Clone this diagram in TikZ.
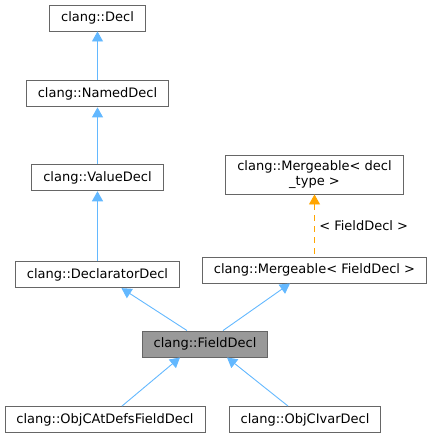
\documentclass[tikz,border=0pt]{standalone}
\usepackage{fontspec}
\setmainfont{DejaVu Sans}
\usepackage{xcolor}
\usetikzlibrary{arrows.meta, positioning}

\definecolor{edgeblue}{HTML}{63B8FF}
\definecolor{tmplorange}{HTML}{FFA500}
\definecolor{boxgray}{HTML}{666666}
\definecolor{curfill}{HTML}{999999}

\begin{document}
\begin{tikzpicture}[
    x=1pt, y=-1pt,
    cls/.style={rectangle, draw=boxgray, fill=white, line width=0.9pt, inner xsep=11.5pt, inner ysep=2pt, minimum height=26pt, font=\fontsize{13}{15}\selectfont, align=center},
    current/.style={cls, fill=curfill},
    arrow/.style={{Triangle[width=11pt,length=10pt]}-, draw=edgeblue, line width=0.9pt},
    tmplarrow/.style={{Triangle[width=11pt,length=10pt]}-, draw=tmplorange, line width=0.9pt, dash pattern=on 6pt off 5pt}
]
\useasboundingbox (0,0) rectangle (432,437);

% base chain
\node[cls] (decl) at (97.5,18) {clang::Decl};
\node[cls, below=49pt of decl] (named) {clang::NamedDecl};
\node[cls, below=57pt of named] (value) {clang::ValueDecl};
\node[cls, below=70pt of value] (declarator) {clang::DeclaratorDecl};

% template side
\node[cls, minimum height=39pt] (mergetmpl) at (314.5,174.5) {clang::Mergeable< decl\\\_type >};
\node[cls] (mergefield) at (314.5,270) {clang::Mergeable< FieldDecl >};

% this class and subclasses
\node[current] (field) at (205,344) {clang::FieldDecl};
\node[cls] (atdefs) at (105,419.5) {clang::ObjCAtDefsFieldDecl};
\node[cls] (ivar) at (305,419.5) {clang::ObjCIvarDecl};

% inheritance
\draw[arrow] (decl.south) -- (named.north);
\draw[arrow] (named.south) -- (value.north);
\draw[arrow] (value.south) -- (declarator.north);
\draw[arrow] ([xshift=24pt]declarator.south) -- ([xshift=-18pt]field.north);
\draw[arrow] ([xshift=-24.5pt]mergefield.south) -- ([xshift=18pt]field.north);
\draw[arrow] ([xshift=-25pt]field.south) -- ([xshift=17pt]atdefs.north);
\draw[arrow] ([xshift=22pt]field.south) -- ([xshift=-17pt]ivar.north);

% template instance
\draw[tmplarrow] (mergetmpl.south) -- node[right, font=\fontsize{13}{15}\selectfont, xshift=1pt] (tmplarg) {< FieldDecl >} (mergefield.north);

\end{tikzpicture}
\end{document}
